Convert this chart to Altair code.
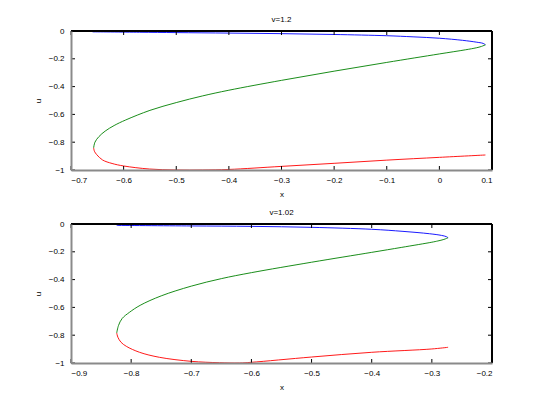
import altair as alt
import pandas as pd

# ---- data (x, u along each branch) ----
top_blue_x = [-0.659, -0.57, -0.5, -0.4, -0.3, -0.2, -0.1, -0.05, 0.0, 0.044, 0.070, 0.083, 0.0875]
top_blue_u = [-0.006, -0.009, -0.0115, -0.015, -0.019, -0.025, -0.034, -0.042, -0.052, -0.067, -0.080, -0.089, -0.099]
top_green_x = [0.0875, 0.080, 0.070, 0.05, 0.0, -0.1, -0.2, -0.3, -0.4, -0.45, -0.5, -0.55, -0.596, -0.618, -0.635, -0.647, -0.6545, -0.657]
top_green_u = [-0.099, -0.111, -0.121, -0.135, -0.165, -0.226, -0.289, -0.355, -0.426, -0.467, -0.515, -0.571, -0.640, -0.680, -0.720, -0.760, -0.800, -0.841]
top_red_x = [-0.657, -0.6555, -0.651, -0.640, -0.622, -0.6, -0.551, -0.5, -0.45, -0.4, -0.3, -0.2, -0.1, 0.0, 0.0875]
top_red_u = [-0.841, -0.865, -0.890, -0.928, -0.953, -0.971, -0.993, -1.0, -1.0, -0.996, -0.974, -0.952, -0.929, -0.909, -0.892]

bot_blue_x = [-0.824, -0.7, -0.6, -0.5, -0.4, -0.348, -0.304, -0.284, -0.276, -0.273]
bot_blue_u = [-0.010, -0.014, -0.017, -0.024, -0.038, -0.053, -0.070, -0.082, -0.091, -0.099]
bot_green_x = [-0.273, -0.280, -0.290, -0.3, -0.35, -0.4, -0.5, -0.6, -0.65, -0.7, -0.75, -0.785, -0.803, -0.815, -0.821, -0.824]
bot_green_u = [-0.099, -0.111, -0.122, -0.131, -0.168, -0.204, -0.275, -0.350, -0.393, -0.447, -0.517, -0.585, -0.636, -0.680, -0.730, -0.784]
bot_red_x = [-0.824, -0.822, -0.817, -0.808, -0.786, -0.753, -0.7, -0.653, -0.62, -0.6, -0.5, -0.4, -0.3, -0.273]
bot_red_u = [-0.784, -0.815, -0.850, -0.880, -0.923, -0.959, -0.988, -0.998, -1.0, -0.995, -0.957, -0.923, -0.899, -0.887]

titles = ["v=1.2", "v=1.02"]
top_xticks = [-0.7, -0.6, -0.5, -0.4, -0.3, -0.2, -0.1, 0.0, 0.1]
bot_xticks = [-0.9, -0.8, -0.7, -0.6, -0.5, -0.4, -0.3, -0.2]
yticks = [-1.0, -0.8, -0.6, -0.4, -0.2, 0.0]

series_names = ["blue", "green", "red"]
series_colors = ["#0000ff", "#008000", "#ff0000"]

W, H = 421, 139
FONT = "Liberation Sans"


def branch_frame(xs_list, us_list):
    rows = []
    for name, xs, us in zip(series_names, xs_list, us_list):
        for i, (xv, uv) in enumerate(zip(xs, us)):
            rows.append({"x": xv, "u": uv, "s": name, "o": i})
    return pd.DataFrame(rows)


def panel(df, xticks, title):
    xs = alt.Scale(domain=[xticks[0], xticks[-1]], nice=False, zero=False)
    ys = alt.Scale(domain=[-1, 0], nice=False, zero=False)
    xaxis = alt.Axis(values=xticks, format="~f", ticks=False, grid=False,
                     domainColor="#8a8a8a", domainWidth=2, labelFont=FONT,
                     labelFontSize=8, labelColor="#000", labelPadding=6,
                     titleFont=FONT, titleFontSize=8, titleFontWeight="normal",
                     titleColor="#000", titlePadding=6, zindex=1)
    yaxis = alt.Axis(values=yticks, format="~f", ticks=False, grid=False,
                     domainColor="#8a8a8a", domainWidth=2, labelFont=FONT,
                     labelFontSize=8, labelColor="#000", labelPadding=7,
                     titleFont=FONT, titleFontSize=8, titleFontWeight="normal",
                     titleColor="#000", titlePadding=6, zindex=1)
    lines = alt.Chart(df).mark_line(strokeWidth=0.9, interpolate="catmull-rom").encode(
        x=alt.X("x:Q", scale=xs, title="x", axis=xaxis),
        y=alt.Y("u:Q", scale=ys, title="u", axis=yaxis),
        color=alt.Color("s:N", scale=alt.Scale(domain=series_names, range=series_colors), legend=None),
        detail="s:N",
        order="o:Q",
    )
    xt = pd.DataFrame({"x": xticks})
    yt = pd.DataFrame({"u": yticks})
    xb = alt.Chart(xt).mark_rule(color="black", strokeWidth=1).encode(
        x=alt.X("x:Q", scale=xs, title="x", axis=xaxis), y=alt.value(H), y2=alt.value(H - 4))
    xtp = alt.Chart(xt).mark_rule(color="black", strokeWidth=1).encode(
        x=alt.X("x:Q", scale=xs, title="x", axis=xaxis), y=alt.value(0), y2=alt.value(4))
    yl = alt.Chart(yt).mark_rule(color="black", strokeWidth=1).encode(
        y=alt.Y("u:Q", scale=ys, title="u", axis=yaxis), x=alt.value(0), x2=alt.value(4))
    yr = alt.Chart(yt).mark_rule(color="black", strokeWidth=1).encode(
        y=alt.Y("u:Q", scale=ys, title="u", axis=yaxis), x=alt.value(W - 4), x2=alt.value(W))
    frame_top = alt.Chart(xt).mark_rule(color="black", strokeWidth=1).encode(
        x=alt.value(0), x2=alt.value(W), y=alt.value(0))
    frame_right = alt.Chart(xt).mark_rule(color="black", strokeWidth=1).encode(
        x=alt.value(W), y=alt.value(0), y2=alt.value(H))
    return alt.layer(lines, xb, xtp, yl, yr, frame_top, frame_right).properties(
        width=W, height=H,
        title=alt.TitleParams(title, font=FONT, fontSize=8, fontWeight="normal",
                              color="#000", offset=3),
    )


top = panel(branch_frame([top_blue_x, top_green_x, top_red_x],
                         [top_blue_u, top_green_u, top_red_u]), top_xticks, titles[0])
bot = panel(branch_frame([bot_blue_x, bot_green_x, bot_red_x],
                         [bot_blue_u, bot_green_u, bot_red_u]), bot_xticks, titles[1])

chart = alt.vconcat(top, bot, spacing=9).properties(
    padding={"left": 25, "top": 7, "right": 5, "bottom": 5}
).configure_view(stroke=None).configure(background="white")

chart.save("out.html", embed_options={"renderer": "svg", "actions": False})
